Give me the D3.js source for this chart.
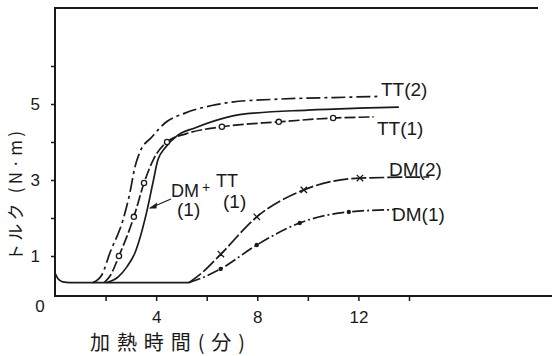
<!DOCTYPE html>
<html>
<head>
<meta charset="utf-8">
<script src="https://cdn.jsdelivr.net/npm/d3@7/dist/d3.min.js"></script>
<style>
  body { margin: 0; background: #fff; }
  svg { display: block; }
  text { fill: #1a1a1a; }
</style>
</head>
<body>
<div id="chart"></div>
<script>
// Data: time (min) and torque (N·m)
var baseT = [0, 0.12, 0.3, 0.6, 5.3];
var baseV = [0.55, 0.4, 0.32, 0.3, 0.3];

var tt2T = [1.5, 1.85, 2.17, 2.69, 2.96, 3.16, 3.36, 3.83, 4.35, 5.14, 6.2, 7.0, 8.9, 11.0, 12.85];
var tt2V = [0.3, 0.5, 1.08, 1.95, 2.66, 3.34, 3.74, 4.13, 4.5, 4.76, 4.96, 5.05, 5.13, 5.17, 5.2];

var tt1T = [1.95, 2.2, 2.53, 3.12, 3.52, 3.9, 4.43, 5.2, 6.6, 8.85, 11.0, 12.6];
var tt1V = [0.3, 0.5, 1.0, 2.03, 2.92, 3.55, 4.0, 4.22, 4.4, 4.53, 4.63, 4.66];
var tt1PtT = [2.53, 3.12, 3.52, 4.43, 6.6, 8.85, 11.0];
var tt1PtV = [1.0, 2.03, 2.92, 4.0, 4.4, 4.53, 4.63];

var mixT = [2.05, 2.5, 2.85, 3.16, 3.64, 3.87, 4.07, 4.35, 4.86, 5.53, 7.3, 10, 12, 13.6];
var mixV = [0.3, 0.45, 0.72, 1.08, 2.2, 2.92, 3.53, 3.84, 4.18, 4.37, 4.72, 4.84, 4.89, 4.92];

var dm2T = [5.3, 5.8, 6.56, 7.98, 9.84, 12.06, 14.8];
var dm2V = [0.3, 0.55, 1.05, 2.03, 2.74, 3.05, 3.08];
var dm2PtT = [6.56, 7.98, 9.84, 12.06];
var dm2PtV = [1.05, 2.03, 2.74, 3.05];

var dm1T = [5.3, 5.8, 6.55, 7.98, 9.68, 11.62, 13.4];
var dm1V = [0.3, 0.42, 0.66, 1.29, 1.87, 2.16, 2.22];
var dm1PtT = [6.55, 7.98, 9.68, 11.62];
var dm1PtV = [0.66, 1.29, 1.87, 2.16];

var xTicks = [2, 4, 6, 8, 10, 12, 14];
var xLabels = [4, 8, 12];
var yTicks = [1, 2, 3, 4, 5, 6];
var yLabels = [1, 3, 5];

var width = 552, height = 356;
var ink = '#1a1a1a';
var numFont = '"Liberation Sans", "DejaVu Sans", sans-serif';
var jpFont = '"Noto Sans CJK JP", sans-serif';

var svg = d3.select('#chart').append('svg')
  .attr('width', width)
  .attr('height', height);

var x = d3.scaleLinear().domain([0, 14]).range([55, 409]);
var y = d3.scaleLinear().domain([0, 6]).range([294, 66]);

var frameTop = 8, frameBottom = 296;

// frame: left, top and bottom lines (no right side)
svg.append('path')
  .attr('d', 'M' + 538 + ',' + frameTop + 'H' + x(0) + 'V' + frameBottom + 'H' + width)
  .attr('fill', 'none')
  .attr('stroke', ink)
  .attr('stroke-width', 2);

// axes
var xAxis = d3.axisBottom(x)
  .tickValues(xTicks)
  .tickSize(5)
  .tickPadding(10)
  .tickFormat(function(d) { return xLabels.indexOf(d) >= 0 ? d : ''; });
var gx = svg.append('g')
  .attr('transform', 'translate(0,' + frameBottom + ')')
  .call(xAxis);

var yAxis = d3.axisLeft(y)
  .tickValues(yTicks)
  .tickSize(4)
  .tickPadding(11)
  .tickFormat(function(d) { return yLabels.indexOf(d) >= 0 ? d : ''; });
var gy = svg.append('g')
  .attr('transform', 'translate(' + x(0) + ',0)')
  .call(yAxis);

[gx, gy].forEach(function(g) {
  g.select('.domain').remove();
  g.selectAll('.tick line').attr('stroke', ink).attr('stroke-width', 1.5);
  g.selectAll('.tick text')
    .attr('fill', ink)
    .style('font-family', numFont)
    .style('font-size', '17px');
});

// corner "0"
svg.append('text')
  .attr('x', x(0) - 15)
  .attr('y', frameBottom + 16)
  .attr('text-anchor', 'middle')
  .style('font-family', numFont)
  .style('font-size', '17px')
  .text('0');

// axis titles
svg.append('text')
  .attr('transform', 'translate(22,196) rotate(-90)')
  .attr('text-anchor', 'middle')
  .attr('textLength', 130)
  .attr('lengthAdjust', 'spacing')
  .style('font-family', jpFont)
  .style('font-size', '17px')
  .text('トルク (N·m)');

svg.append('text')
  .attr('x', 90)
  .attr('y', 350)
  .attr('textLength', 155)
  .attr('lengthAdjust', 'spacing')
  .style('font-family', jpFont)
  .style('font-size', '20px')
  .text('加熱時間(分)');

// curves
var line = d3.line()
  .x(function(d) { return x(d[0]); })
  .y(function(d) { return y(d[1]); })
  .curve(d3.curveMonotoneX);

function drawLine(ts, vs, dash) {
  svg.append('path')
    .datum(d3.zip(ts, vs))
    .attr('d', line)
    .attr('fill', 'none')
    .attr('stroke', ink)
    .attr('stroke-width', 1.7)
    .attr('stroke-dasharray', dash);
}

drawLine(baseT, baseV, null);
drawLine(tt2T, tt2V, '14,4,3,4');
drawLine(tt1T, tt1V, '11,3');
drawLine(mixT, mixV, null);
drawLine(dm2T, dm2V, '15,3');
drawLine(dm1T, dm1V, '12,3,2,3');

// markers
svg.selectAll('.tt1pt')
  .data(d3.zip(tt1PtT, tt1PtV))
  .enter().append('circle')
  .attr('cx', function(d) { return x(d[0]); })
  .attr('cy', function(d) { return y(d[1]); })
  .attr('r', 2.6)
  .attr('fill', '#fff')
  .attr('stroke', ink)
  .attr('stroke-width', 1.3);

svg.selectAll('.dm2pt')
  .data(d3.zip(dm2PtT, dm2PtV))
  .enter().append('path')
  .attr('d', function(d) {
    var cx = x(d[0]), cy = y(d[1]), s = 3.2;
    return 'M' + (cx - s) + ',' + (cy - s) + 'L' + (cx + s) + ',' + (cy + s) +
      'M' + (cx - s) + ',' + (cy + s) + 'L' + (cx + s) + ',' + (cy - s);
  })
  .attr('stroke', ink)
  .attr('stroke-width', 1.3);

svg.selectAll('.dm1pt')
  .data(d3.zip(dm1PtT, dm1PtV))
  .enter().append('circle')
  .attr('cx', function(d) { return x(d[0]); })
  .attr('cy', function(d) { return y(d[1]); })
  .attr('r', 2.2)
  .attr('fill', ink);

// series labels
function label(tx, ty, s, size) {
  svg.append('text')
    .attr('x', tx)
    .attr('y', ty)
    .style('font-family', numFont)
    .style('font-size', (size || 19) + 'px')
    .text(s);
}
label(381, 96, 'TT(2)');
label(377, 135, 'TT(1)');
label(389, 176, 'DM(2)');
label(392, 221, 'DM(1)');

// DM + TT (1) (1) annotation with arrow
label(171, 197, 'DM', 18);
label(202, 192, '+', 14);
label(216, 187, 'TT', 18);
label(177, 216, '(1)', 19);
label(223, 208, '(1)', 19);

svg.append('path')
  .attr('d', 'M171,199L150,208')
  .attr('stroke', ink)
  .attr('stroke-width', 1.3);
svg.append('path')
  .attr('d', 'M149,208.5L157,202.5L156.5,208.5Z')
  .attr('fill', ink);
</script>
</body>
</html>
